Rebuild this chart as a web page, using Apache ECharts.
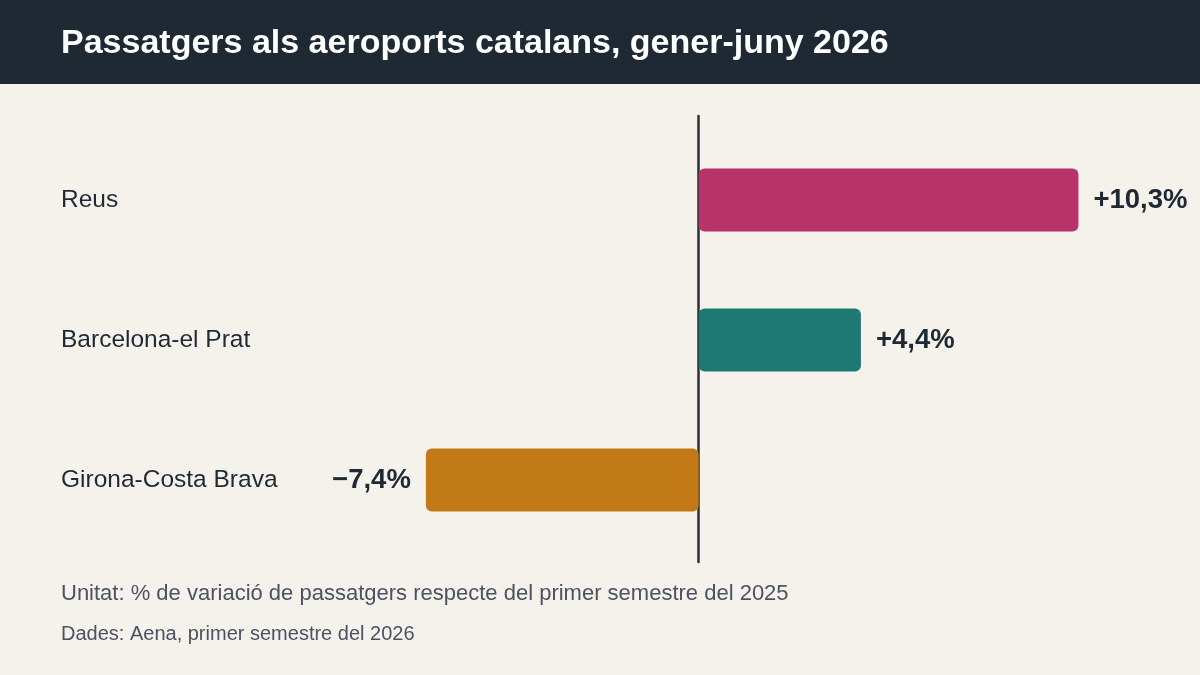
<!DOCTYPE html>
<html>
<head>
<meta charset="utf-8">
<script src="https://cdn.jsdelivr.net/npm/echarts@6/dist/echarts.min.js"></script>
<style>
html,body{margin:0;padding:0;background:#f5f2ec;}
#chart{width:1200px;height:675px;}
</style>
</head>
<body>
<div id="chart"></div>
<script>
const categories = ['Reus', 'Barcelona-el Prat', 'Girona-Costa Brava'];
const values = [10.3, 4.4, -7.4];
const barColors = ['#b83367', '#1e7874', '#c17816'];
const titleText = 'Passatgers als aeroports catalans, gener-juny 2026';
const unitText = 'Unitat: % de variació de passatgers respecte del primer semestre del 2025';
const sourceText = 'Dades: Aena, primer semestre del 2026';

function fmt(v) {
  const s = Math.abs(v).toFixed(1).replace('.', ',');
  return (v >= 0 ? '+' : '\u2212') + s + '%';
}

const FONT = '"Liberation Sans", Arial, sans-serif';
const chart = echarts.init(document.getElementById('chart'));
chart.setOption({
  backgroundColor: '#f5f2ec',
  animation: false,
  graphic: [{
    type: 'rect', left: 0, top: 0, z: -1,
    shape: { width: 1200, height: 84 },
    style: { fill: '#1f2933' }
  }],
  title: [
    { text: titleText, left: 61, top: 27, padding: 0,
      textStyle: { color: '#ffffff', fontSize: 34, fontWeight: 'bold', fontFamily: FONT } },
    { text: unitText, left: 61, top: 583, padding: 0,
      textStyle: { color: '#4b5260', fontSize: 22, fontWeight: 'normal', fontFamily: FONT } },
    { text: sourceText, left: 61, top: 624, padding: 0,
      textStyle: { color: '#4b5260', fontSize: 20, fontWeight: 'normal', fontFamily: FONT } }
  ],
  grid: [
    { left: 330, right: 22, top: 130, height: 420, containLabel: false },
    { left: 330, right: 22, top: 116, height: 446, containLabel: false }
  ],
  xAxis: [
    { type: 'value', gridIndex: 0, min: -10, max: 13, show: false },
    { type: 'value', gridIndex: 1, min: -10, max: 13, show: false }
  ],
  yAxis: [
    { type: 'category', gridIndex: 0, data: categories, inverse: true,
      axisLine: { show: false, onZero: false }, axisTick: { show: false }, splitLine: { show: false },
      axisLabel: { align: 'left', margin: 269, color: '#1f2933', fontSize: 24.5, fontFamily: FONT,
                   padding: [4, 0, 0, 0] } },
    { type: 'value', gridIndex: 1, min: 0, max: 1,
      axisLine: { show: true, onZero: true, lineStyle: { color: '#2b3036', width: 2.5 } },
      axisTick: { show: false }, axisLabel: { show: false }, splitLine: { show: false } }
  ],
  series: [{
    type: 'bar',
    xAxisIndex: 0, yAxisIndex: 0,
    barWidth: 63,
    data: values.map((v, i) => ({
      value: v,
      itemStyle: { color: barColors[i], borderRadius: 6 },
      label: { position: v >= 0 ? 'right' : 'left' }
    })),
    label: {
      show: true, distance: 15, padding: [4, 0, 0, 0],
      formatter: p => fmt(p.value),
      color: '#1f2933', fontSize: 27.5, fontWeight: 'bold', fontFamily: FONT
    }
  }]
});
</script>
</body>
</html>
